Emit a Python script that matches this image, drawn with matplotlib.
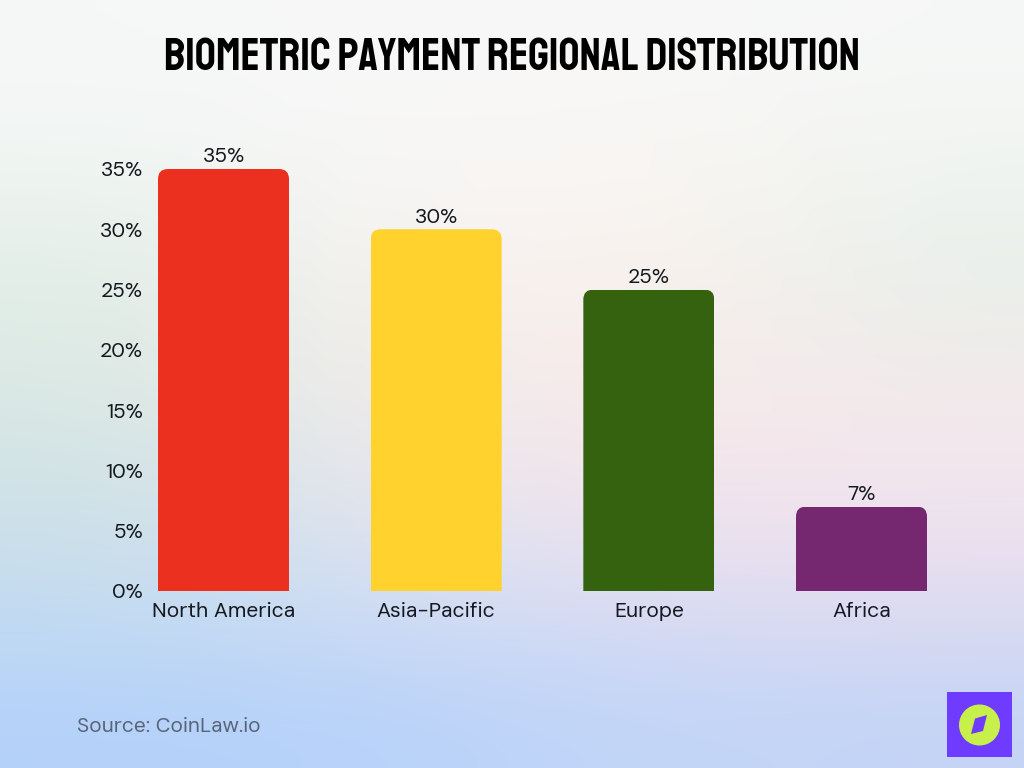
#!/usr/bin/env python3

import numpy as np
import matplotlib
matplotlib.use("Agg")
import matplotlib.pyplot as plt
from matplotlib.colors import to_rgb
from matplotlib.path import Path
from matplotlib.patches import PathPatch, Rectangle, Circle, Polygon

W, H = 1024, 768

regions = ["North America", "Asia-Pacific", "Europe", "Africa"]
shares = [35, 30, 25, 7]
bar_colors = ["#ec3020", "#ffd22e", "#34620e", "#75286f"]
y_ticks = [0, 5, 10, 15, 20, 25, 30, 35]

# background colour mesh, rows top to bottom
bg_rows = [
    ["#f6f8f8", "#f8f8f8", "#f8f8f8", "#f6f8f7"],
    ["#f0f5f2", "#f8f7f6", "#fbf6f3", "#f0f4f0"],
    ["#e2eee7", "#f5f1ef", "#fbf2ee", "#e8efea"],
    ["#dbe9e4", "#f2ecea", "#f8eaea", "#f2ebeb"],
    ["#cfe2e6", "#e6e6ee", "#f4e4ec", "#f3e5ee"],
    ["#c4dcf0", "#d0def4", "#dedcf2", "#dfdcf0"],
    ["#b4d1fa", "#b8d2fa", "#c2d6f8", "#c4d4f6"],
]

plt.rcParams["font.family"] = ["DM Sans", "DejaVu Sans"]
text_col = "#14181f"

fig = plt.figure(figsize=(W / 100, H / 100), dpi=100)

# full figure layer in pixel coordinates, for background and logo
bg = fig.add_axes([0, 0, 1, 1], zorder=0)
bg.axis("off")
mesh = np.array([[to_rgb(c) for c in row] for row in bg_rows])
bg.imshow(mesh, extent=(0, W, H, 0), aspect="auto", interpolation="bicubic", zorder=0)
bg.set_xlim(0, W)
bg.set_ylim(H, 0)

bg.add_patch(Rectangle((947, 692), 65, 65, color="#6f3cff", lw=0, zorder=2))
bg.add_patch(Circle((979.5, 725), 20.5, color="#c8f04a", lw=0, zorder=3))
bg.add_patch(Polygon([(987, 715), (975, 718.5), (971, 734), (983, 731)], color="#6f3cff", lw=0, zorder=4))

bg.text(77, 726, "Source: CoinLaw.io", fontsize=15, color="#56657a", ha="left", va="center")
bg.text(512, 54, "Biometric Payment Regional Distribution", fontsize=33,
        family=["Staatliches", "DejaVu Sans"], color="black", ha="center", va="center")

# chart, x=0 sits at 223.5 px, one category is 212.67 px, 35% is 422 px
left, right, top, bottom = 150, 940, 169, 591
ax = fig.add_axes([left / W, 1 - bottom / H, (right - left) / W, (bottom - top) / H], zorder=1)
ax.patch.set_alpha(0)
step = 212.67
ax.set_xlim((left - 223.5) / step, (right - 223.5) / step)
ax.set_ylim(0, 35)

x = np.arange(len(regions))
bars = ax.bar(x, shares, width=0.616, color=bar_colors, linewidth=0)

# round the top corners by clipping each bar
rx = 10 / step
ry = 10 / ((bottom - top) / 35)
for b in bars:
    x0, x1 = b.get_x(), b.get_x() + b.get_width()
    h = b.get_height()
    verts = [(x0, 0), (x0, h - ry), (x0, h), (x0 + rx, h), (x1 - rx, h), (x1, h), (x1, h - ry), (x1, 0), (x0, 0)]
    codes = [Path.MOVETO, Path.LINETO, Path.CURVE3, Path.CURVE3, Path.LINETO, Path.CURVE3, Path.CURVE3, Path.LINETO, Path.CLOSEPOLY]
    b.set_clip_path(PathPatch(Path(verts, codes), transform=ax.transData))

for xi, v in zip(x, shares):
    ax.annotate(f"{v}%", (xi, v), xytext=(0, 2), textcoords="offset points",
                ha="center", va="bottom", fontsize=15, color=text_col, annotation_clip=False)

for s in ax.spines.values():
    s.set_visible(False)
ax.set_xticks(x, regions)
ax.set_yticks(y_ticks, [f"{t}%" for t in y_ticks])
ax.tick_params(axis="both", length=0, labelsize=15, labelcolor=text_col)
ax.tick_params(axis="x", labelsize=15.2, pad=8)
ax.tick_params(axis="y", pad=5)

fig.savefig("out.png", dpi=100)
